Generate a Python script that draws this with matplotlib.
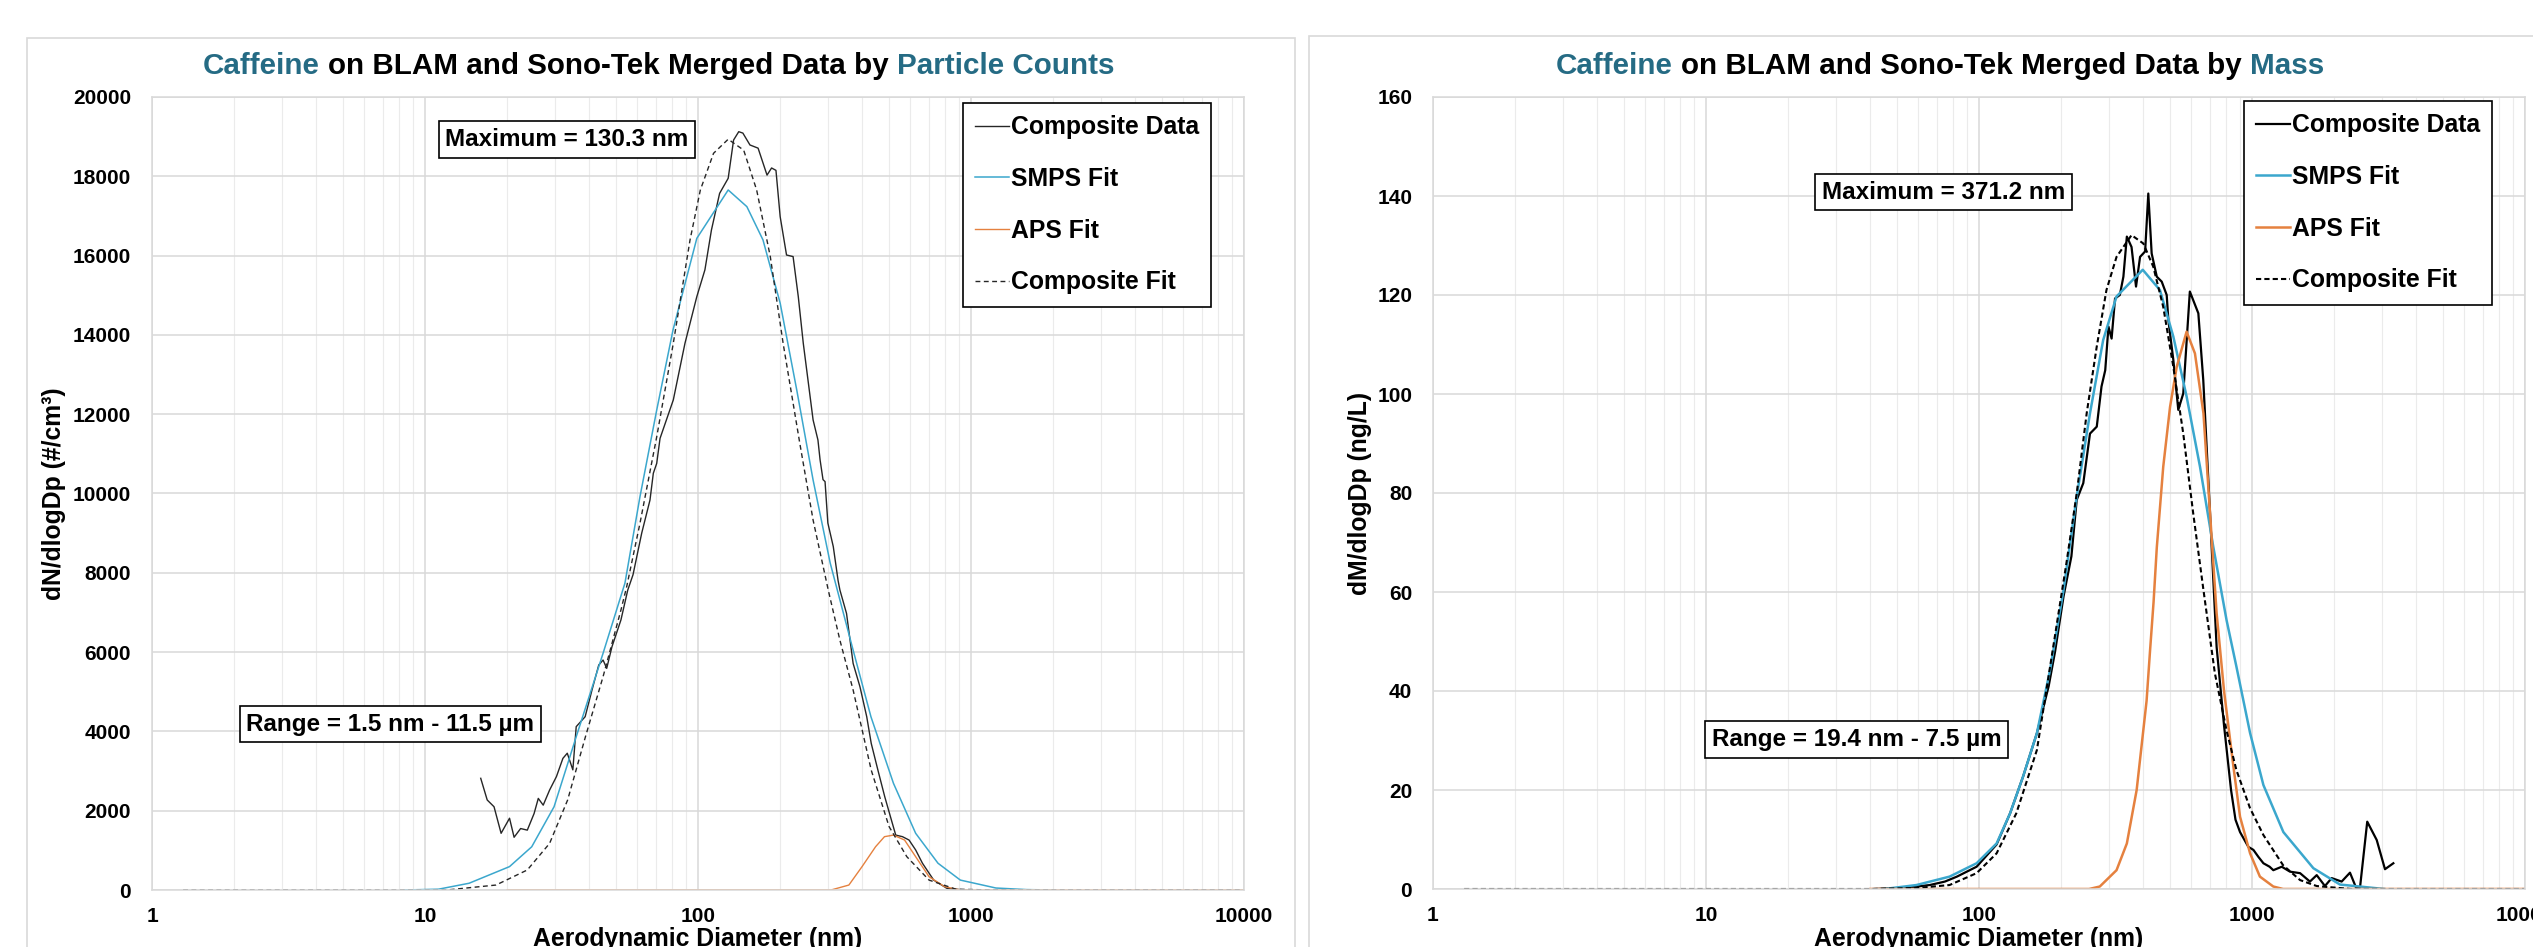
import numpy as np
import matplotlib
matplotlib.use('Agg')
import matplotlib.pyplot as plt
from matplotlib.patches import Rectangle
from matplotlib.ticker import LogLocator, NullFormatter

plt.rcParams['font.family'] = ['Liberation Sans', 'DejaVu Sans']
plt.rcParams['font.weight'] = 'bold'
plt.rcParams['axes.labelweight'] = 'bold'

# ---- left panel: number distribution (nm, dN/dlogDp) ----
cnt_data_x = [16.0, 16.9, 17.9, 19.0, 20.4, 21.2, 22.4, 23.7, 25.1, 26.0, 27.1, 28.6, 30.3,
              32.0, 33.2, 34.8, 35.8, 38.6, 40.9, 43.3, 44.9, 46.3, 48.4, 52.2, 55.3, 57.8,
              62.2, 66.7, 68.6, 70.6, 72.6, 81.2, 89.6, 99, 106, 112, 120, 129, 135, 141,
              146, 155, 166, 179, 186, 193, 200, 211, 223, 233, 243, 264, 275, 280, 287,
              292, 299, 313, 326, 331, 350, 370, 392, 415, 431, 456, 483, 511, 530, 561,
              593, 627, 664, 730, 817, 912, 1000]
cnt_data_y = [2817, 2270, 2100, 1430, 1810, 1330, 1550, 1510, 1930, 2310, 2140, 2520, 2860,
              3320, 3450, 3030, 4120, 4370, 5045, 5675, 5800, 5590, 6135, 6810, 7565, 7950,
              9000, 9835, 10510, 10760, 11390, 12360, 13790, 14965, 15640, 16645, 17570,
              17950, 18915, 19125, 19090, 18790, 18710, 18030, 18210, 18150, 16980, 16015,
              15975, 14965, 13790, 11855, 11350, 10850, 10350, 10300, 9255, 8660, 7800,
              7565, 6975, 5715, 5125, 4370, 3700, 3025, 2355, 1765, 1385, 1345, 1260, 1010,
              675, 250, 40, 10, 0]

cnt_smps_x = [8.4, 11.2, 14.5, 20.4, 24.6, 29.7, 35.8, 44.9, 54, 61.3, 70.6, 81, 99, 129,
              151, 173, 200, 230, 264, 305, 370, 430, 520, 627, 757, 914, 1234, 1600, 2000]
cnt_smps_y = [0, 20, 170, 590, 1090, 2100, 3865, 5970, 7740, 9920, 12105, 14125, 16435,
              17655, 17235, 16395, 14800, 12610, 10340, 8245, 6050, 4370, 2690, 1430, 675,
              250, 50, 10, 0]

cnt_aps_x = [20, 307, 357, 399, 447, 482, 520, 571, 627, 702, 800, 912, 10000]
cnt_aps_y = [0, 0, 125, 590, 1090, 1345, 1385, 1260, 840, 335, 85, 0, 0]

cnt_fit_x = [1.3, 12, 18.2, 23.7, 28.6, 33.3, 38.7, 44.9, 52.2, 54.8, 61.3, 70.6, 81.2, 93.5,
             102, 114, 129, 147, 164, 184, 205, 236, 264, 300, 331, 370, 431, 501, 582,
             702, 881, 1200, 10000]
cnt_fit_y = [0, 0, 125, 505, 1175, 2270, 3865, 5380, 7060, 7650, 9250, 11430, 13790, 16395,
             17655, 18580, 18935, 18660, 17655, 15975, 13790, 11265, 9330, 7565, 6300, 5045,
             3025, 1600, 840, 250, 20, 0, 0]

# ---- right panel: mass distribution (nm, dM/dlogDp) ----
mass_data_x = [41.6, 55, 66, 75, 83, 98, 116, 130, 145, 163, 180, 190, 204, 218, 228, 241,
               255, 270, 281, 290, 298, 306, 315, 328, 338, 348, 362, 376, 389, 406, 417,
               429, 448, 467, 487, 494, 515, 537, 560, 592, 636, 663, 682, 702, 742, 790,
               838, 870, 904, 970, 1012, 1055, 1101, 1160, 1197, 1285, 1378, 1500, 1630,
               1726, 1850, 1958, 2130, 2285, 2404, 2487, 2643, 2863, 3070, 3294]
mass_data_y = [0, 0.3, 0.8, 1.5, 2.5, 4.5, 9.0, 15.3, 22.7, 31.5, 41, 48, 59.1, 67.2, 78.6,
               82.0, 92.0, 93.4, 101.5, 104.8, 113.6, 111.2, 119.3, 120.0, 123.7, 131.8,
               129.7, 121.7, 127.7, 128.8, 140.5, 128.4, 123.7, 122.7, 120.0, 114.9, 106.9,
               96.8, 100.1, 120.7, 116.3, 102.8, 89.4, 75.9, 48.9, 33, 20, 14, 11.5, 8.5,
               7.9, 6.5, 5.2, 4.5, 3.8, 4.5, 3.5, 3.2, 1.5, 2.8, 0.6, 2.2, 1.5, 3.3, 0.3,
               0.3, 13.6, 9.9, 4.0, 5.2]

mass_smps_x = [45, 59, 78, 98, 116, 130, 145, 163, 182, 204, 228, 255, 285, 319, 398, 460,
               515, 576, 645, 721, 807, 877, 984, 1101, 1303, 1678, 2100, 3050]
mass_smps_y = [0, 0.8, 2.5, 5.2, 9.2, 15.3, 22.7, 31.5, 44.2, 60.4, 79.3, 96.1, 110.9,
               119.7, 125.1, 121.0, 111.6, 99.5, 85.3, 69.2, 54.3, 44.9, 31.5, 21, 11.5,
               4.2, 0.9, 0]

mass_aps_x = [40, 253, 277, 319, 348, 378, 411, 423, 436, 448, 473, 501, 530, 576, 618, 664,
              702, 742, 790, 855, 904, 984, 1069, 1197, 1300, 10000]
mass_aps_y = [0, 0, 0.5, 3.8, 9.2, 20.0, 38, 48, 58, 69, 85.3, 97.4, 105.5, 112.6, 108.2,
              96.1, 75.9, 55.7, 40, 24.7, 14.6, 7.2, 2.5, 0.5, 0, 0]

mass_fit_x = [1.3, 40, 59, 78, 98, 116, 137, 163, 187, 209, 228, 248, 270, 293, 319, 362,
              400, 435, 473, 515, 560, 609, 664, 731, 807, 877, 984, 1101, 1300, 1500,
              1726, 2300, 10000]
mass_fit_y = [0, 0, 0.2, 0.8, 3.2, 7.2, 15.3, 28.1, 48.9, 65.8, 79.9, 96.1, 109.6, 121.0,
              127.7, 132.1, 130.4, 125.7, 117.6, 105.5, 92.0, 75.9, 60.4, 43.6, 32, 24,
              16.3, 10.9, 4.8, 1.8, 0.6, 0, 0]

x_ticks = [1, 10, 100, 1000, 10000]
x_tick_labels = ['1', '10', '100', '1000', '10000']
legend_labels = ['Composite Data', 'SMPS Fit', 'APS Fit', 'Composite Fit']

W, H = 2533, 947
fig = plt.figure(figsize=(W / 100, H / 100), dpi=100)

# chart-area borders (Excel style)
fig.patches.append(Rectangle((27 / W, -0.05), (1295 - 27) / W, 0.05 + (H - 38) / H,
                             transform=fig.transFigure, fill=False, ec='#D9D9D9', lw=1.2))
fig.patches.append(Rectangle((1309 / W, -0.05), 0.5, 0.05 + (H - 36) / H,
                             transform=fig.transFigure, fill=False, ec='#D9D9D9', lw=1.2))

ax1 = fig.add_axes([152 / W, (H - 890) / H, 1092 / W, 793 / H])
ax2 = fig.add_axes([1433 / W, (H - 889) / H, 1092 / W, 792 / H])

BLUE = '#3BA7CD'
ORANGE = '#E5813F'
TEAL = '#256B84'


def setup(ax, ymax, ystep, ylabel, ylab_x, xlab_y):
    ax.set_xscale('log')
    ax.set_xlim(1, 10000)
    ax.set_ylim(0, ymax)
    ax.set_yticks(np.arange(0, ymax + ystep / 2, ystep))
    ax.set_xticks(x_ticks)
    ax.set_xticklabels(x_tick_labels)
    ax.xaxis.set_minor_locator(LogLocator(base=10, subs=range(2, 10)))
    ax.xaxis.set_minor_formatter(NullFormatter())
    ax.grid(which='major', color='#D9D9D9', lw=1.1)
    ax.grid(which='minor', axis='x', color='#EBEBEB', lw=0.8)
    ax.set_axisbelow(True)
    ax.tick_params(which='both', length=0, labelsize=15)
    ax.tick_params(axis='y', pad=15)
    ax.tick_params(axis='x', pad=12)
    for s in ax.spines.values():
        s.set_color('#D9D9D9')
        s.set_linewidth(1.1)
    ax.set_ylabel(ylabel, fontsize=17.8, fontweight='bold')
    ax.yaxis.label.set_va('center')
    ax.yaxis.set_label_coords(ylab_x, 0.5)
    ax.set_xlabel('Aerodynamic Diameter (nm)', fontsize=17.8, fontweight='bold')
    ax.xaxis.set_label_coords(0.5, xlab_y)


setup(ax1, 20000, 2000, 'dN/dlogDp (#/cm³)', -0.0897, (890 - 927) / 793)
setup(ax2, 160, 20, 'dM/dlogDp (ng/L)', -0.0668, (889 - 927) / 792)

# left panel curves
l1, = ax1.plot(cnt_data_x, cnt_data_y, color='#262626', lw=1.0)
l2, = ax1.plot(cnt_smps_x, cnt_smps_y, color=BLUE, lw=1.1)
l3, = ax1.plot(cnt_aps_x, cnt_aps_y, color=ORANGE, lw=1.0)
l4, = ax1.plot(cnt_fit_x, cnt_fit_y, color='#262626', lw=1.0, ls=(0, (3.5, 2.5)))

# right panel curves
r1, = ax2.plot(mass_data_x, mass_data_y, color='black', lw=1.6)
r2, = ax2.plot(mass_smps_x, mass_smps_y, color=BLUE, lw=1.8)
r3, = ax2.plot(mass_aps_x, mass_aps_y, color=ORANGE, lw=1.8)
r4, = ax2.plot(mass_fit_x, mass_fit_y, color='black', lw=1.5, ls=(0, (2.5, 1.5)))

for ax, hs, anchor in [(ax1, [l1, l2, l3, l4], (0.9698, 0.9924)),
                       (ax2, [r1, r2, r3, r4], (0.9698, 0.995))]:
    leg = ax.legend(hs, legend_labels, loc='upper right', bbox_to_anchor=anchor,
                    borderaxespad=0, fancybox=False, edgecolor='black', framealpha=1,
                    fontsize=17.8, handlelength=1.35, handletextpad=0.08,
                    labelspacing=1.12, borderpad=0.5)
    leg.get_frame().set_linewidth(1.2)

box = dict(boxstyle='square,pad=0.28', fc='white', ec='black', lw=1.2)
ax1.text(0.380, 0.9464, 'Maximum = 130.3 nm', transform=ax1.transAxes, ha='center',
         va='center', fontsize=17.5, bbox=box)
ax1.text(0.2184, 0.2093, 'Range = 1.5 nm - 11.5 µm', transform=ax1.transAxes, ha='center',
         va='center', fontsize=17.5, bbox=box)
ax2.text(0.4675, 0.880, 'Maximum = 371.2 nm', transform=ax2.transAxes, ha='center',
         va='center', fontsize=17.5, bbox=box)
ax2.text(0.3878, 0.1888, 'Range = 19.4 nm - 7.5 µm', transform=ax2.transAxes, ha='center',
         va='center', fontsize=17.5, bbox=box)

# multi-coloured titles
renderer = fig.canvas.get_renderer()
TSIZE = 21.3
gap = 0.278 * TSIZE * 100 / 72


def title(x_px, parts):
    x = x_px
    for s, c in parts:
        t = fig.text(x / W, 1 - 74 / H, s, color=c, fontsize=TSIZE, ha='left', va='baseline')
        x = t.get_window_extent(renderer=renderer).x1 + gap


title(203, [('Caffeine', TEAL), ('on BLAM and Sono-Tek Merged Data by', 'black'),
            ('Particle Counts', TEAL)])
title(1556, [('Caffeine', TEAL), ('on BLAM and Sono-Tek Merged Data by', 'black'),
             ('Mass', TEAL)])

fig.savefig('out.png', dpi=100)
